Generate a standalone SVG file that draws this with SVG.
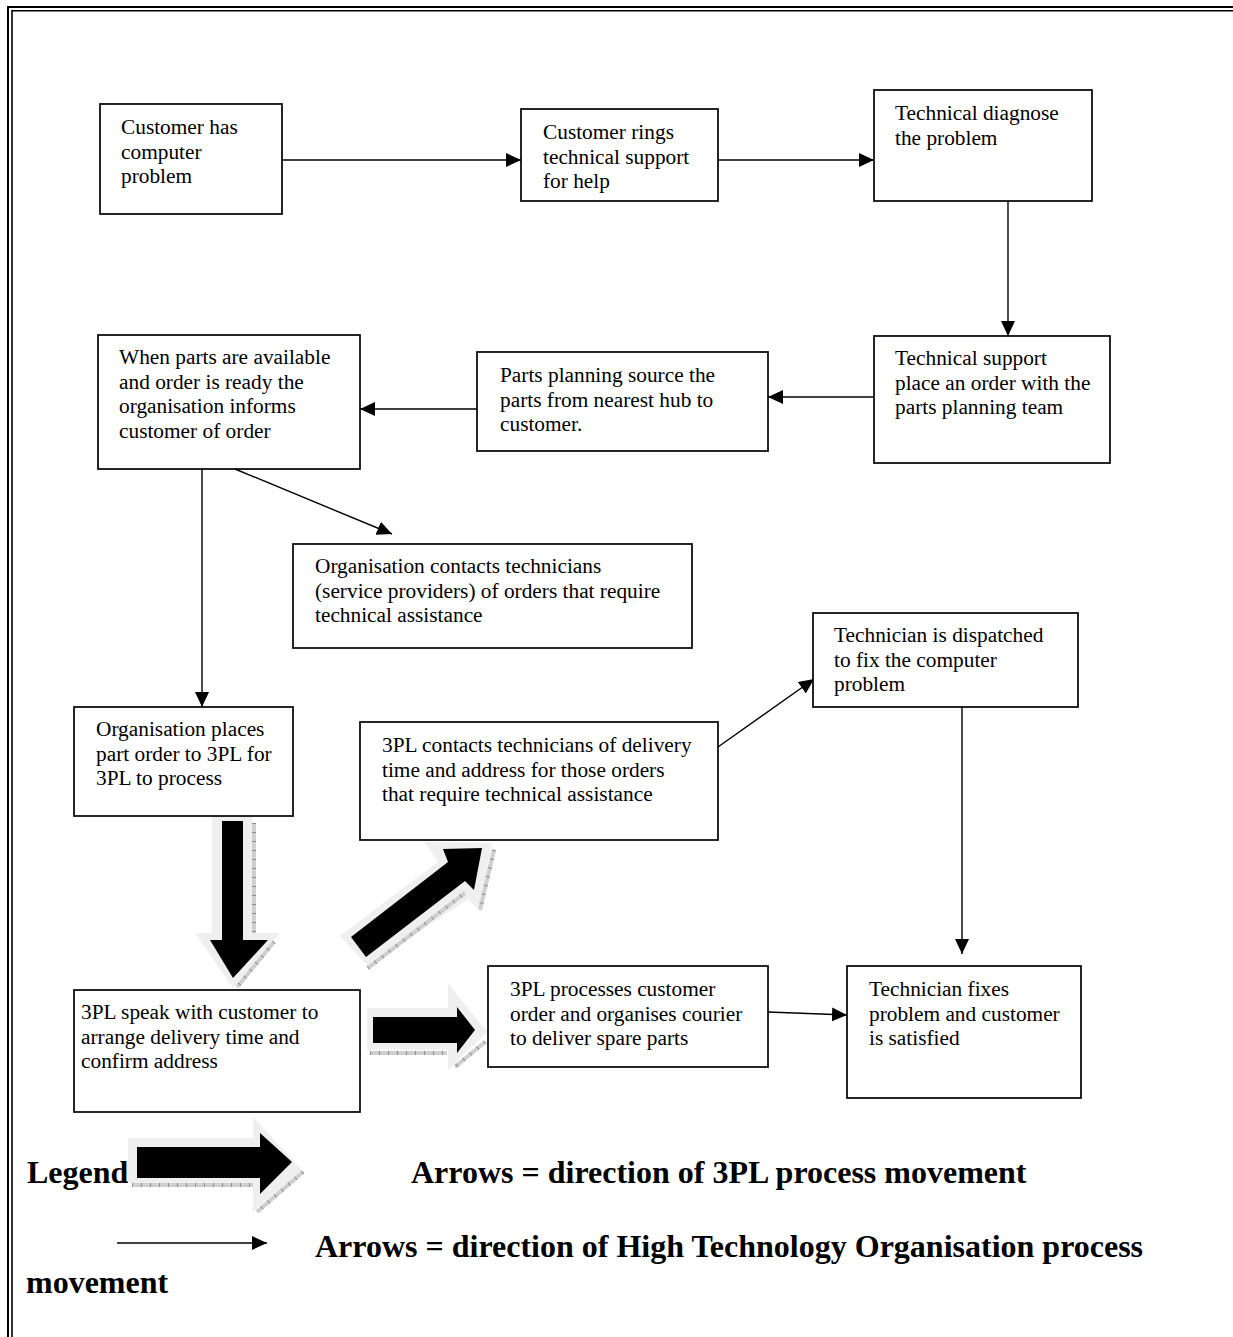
<svg xmlns="http://www.w3.org/2000/svg" width="1233" height="1337" viewBox="0 0 1233 1337">
<defs>
<style>
.box{fill:#fff;stroke:#000;stroke-width:1.7}
.t{font-family:"Liberation Serif","Times New Roman",serif;font-size:21.33px;fill:#000}
.lg{font-family:"Liberation Serif","Times New Roman",serif;font-size:32px;font-weight:bold;fill:#000}
.ln{fill:none;stroke:#000;stroke-width:1.4;marker-end:url(#ah)}
.blk{fill:#000}
.gry{fill:#efefef}
.hb{fill:none;stroke:#cfcfcf;stroke-width:4}
.ht{fill:none;stroke:#8c8c8c;stroke-width:4;stroke-dasharray:1 8}
.fr{fill:none;stroke:#000}
</style>
<marker id="ah" markerUnits="userSpaceOnUse" markerWidth="16" markerHeight="15" refX="15" refY="7" orient="auto">
<path d="M0,0 L15,7 L0,14 Z" fill="#000"/>
</marker>
</defs>
<rect x="0" y="0" width="1233" height="1337" fill="#fff"/>
<g id="frame">
<path class="fr" stroke-width="2" d="M8,1337 V7 H1233"/>
<path class="fr" stroke-width="1.6" d="M12,1337 V10.8 H1233"/>
</g>
<g id="connectors">
<path class="ln" d="M282,160 H521"/>
<path class="ln" d="M718,160 H874"/>
<path class="ln" d="M1008,201 V336"/>
<path class="ln" d="M874,397 H768"/>
<path class="ln" d="M477,409 H360"/>
<path class="ln" d="M235,469 L392,534"/>
<path class="ln" d="M202,469 V707"/>
<path class="ln" d="M718,747 L814,679"/>
<path class="ln" d="M962,707 V954"/>
<path class="ln" d="M768,1012 L847,1015"/>
<g id="block-down">
<path class="gry" d="M212,816 H252 V933 H280 L233,988 L195,933 H212 Z"/>
<path class="hb" d="M254,823 V933 M274,942 L237,987"/>
<path class="ht" d="M254,823 V933 M274,942 L237,987"/>
<path class="blk" d="M222,821 H243 V940 H268 L233,978 L210,940 H222 Z"/>
</g>
<g id="block-diag">
<path class="gry" d="M340,936 L438,862 L425,842 L492,843 L479,910 L468,899 L368,966 Z"/>
<path class="hb" d="M368,968 L465,893 M494,850 L480,910"/>
<path class="ht" d="M368,968 L465,893 M494,850 L480,910"/>
<path class="blk" d="M351,937 L448,862 L443,849 L482,848 L474,890 L465,881 L366,957 Z"/>
</g>
<g id="block-right">
<path class="gry" d="M367,1008 H448 V983 L487,1032 L448,1070 V1050 H367 Z"/>
<path class="hb" d="M370,1053 H447 M485,1042 L455,1067"/>
<path class="ht" d="M370,1053 H447 M485,1042 L455,1067"/>
<path class="blk" d="M373,1017 H457 V1007 L475,1030 L457,1053 V1043 H373 Z"/>
</g>
</g>
<g id="n1"><rect class="box" x="100" y="104" width="182" height="110"/>
<text class="t" x="121" y="134">Customer has<tspan x="121" dy="24.5">computer</tspan><tspan x="121" dy="24.5">problem</tspan></text></g>
<g id="n2"><rect class="box" x="521" y="109" width="197" height="92"/>
<text class="t" x="543" y="139">Customer rings<tspan x="543" dy="24.5">technical support</tspan><tspan x="543" dy="24.5">for help</tspan></text></g>
<g id="n3"><rect class="box" x="874" y="90" width="218" height="111"/>
<text class="t" x="895" y="120">Technical diagnose<tspan x="895" dy="24.5">the problem</tspan></text></g>
<g id="n4"><rect class="box" x="874" y="336" width="236" height="127"/>
<text class="t" x="895" y="365">Technical support<tspan x="895" dy="24.5">place an order with the</tspan><tspan x="895" dy="24.5">parts planning team</tspan></text></g>
<g id="n5"><rect class="box" x="477" y="352" width="291" height="99"/>
<text class="t" x="500" y="382">Parts planning source the<tspan x="500" dy="24.5">parts from nearest hub to</tspan><tspan x="500" dy="24.5">customer.</tspan></text></g>
<g id="n6"><rect class="box" x="98" y="335" width="262" height="134"/>
<text class="t" x="119" y="364">When parts are available<tspan x="119" dy="24.5">and order is ready the</tspan><tspan x="119" dy="24.5">organisation informs</tspan><tspan x="119" dy="24.5">customer of order</tspan></text></g>
<g id="n7"><rect class="box" x="293" y="544" width="399" height="104"/>
<text class="t" x="315" y="573">Organisation contacts technicians<tspan x="315" dy="24.5">(service providers) of orders that require</tspan><tspan x="315" dy="24.5">technical assistance</tspan></text></g>
<g id="n8"><rect class="box" x="74" y="707" width="219" height="109"/>
<text class="t" x="96" y="736">Organisation places<tspan x="96" dy="24.5">part order to 3PL for</tspan><tspan x="96" dy="24.5">3PL to process</tspan></text></g>
<g id="n9"><rect class="box" x="360" y="722" width="358" height="118"/>
<text class="t" x="382" y="752">3PL contacts technicians of delivery<tspan x="382" dy="24.5">time and address for those orders</tspan><tspan x="382" dy="24.5">that require technical assistance</tspan></text></g>
<g id="n10"><rect class="box" x="813" y="613" width="265" height="94"/>
<text class="t" x="834" y="642">Technician is dispatched<tspan x="834" dy="24.5">to fix the computer</tspan><tspan x="834" dy="24.5">problem</tspan></text></g>
<g id="n11"><rect class="box" x="74" y="990" width="286" height="122"/>
<text class="t" x="81" y="1019">3PL speak with customer to<tspan x="81" dy="24.5">arrange delivery time and</tspan><tspan x="81" dy="24.5">confirm address</tspan></text></g>
<g id="n12"><rect class="box" x="488" y="966" width="280" height="101"/>
<text class="t" x="510" y="996">3PL processes customer<tspan x="510" dy="24.5">order and organises courier</tspan><tspan x="510" dy="24.5">to deliver spare parts</tspan></text></g>
<g id="n13"><rect class="box" x="847" y="966" width="234" height="132"/>
<text class="t" x="869" y="996">Technician fixes<tspan x="869" dy="24.5">problem and customer</tspan><tspan x="869" dy="24.5">is satisfied</tspan></text></g>
<g id="legend">
<text class="lg" x="27" y="1183">Legend</text>
<path class="gry" d="M128,1138 H253 V1117 L302,1170 L253,1212 V1183 H128 Z"/>
<path class="hb" d="M132,1185 H253 M303,1172 L257,1212"/>
<path class="ht" d="M132,1185 H253 M303,1172 L257,1212"/>
<path class="blk" d="M137,1147 H260 V1133 L292,1162 L260,1194 V1178 H137 Z"/>
<text class="lg" x="411" y="1183">Arrows = direction of 3PL process movement</text>
<path class="ln" d="M117,1243 H267"/>
<text class="lg" x="315" y="1257">Arrows = direction of High Technology Organisation process</text>
<text class="lg" x="26" y="1293">movement</text>
</g>
</svg>
